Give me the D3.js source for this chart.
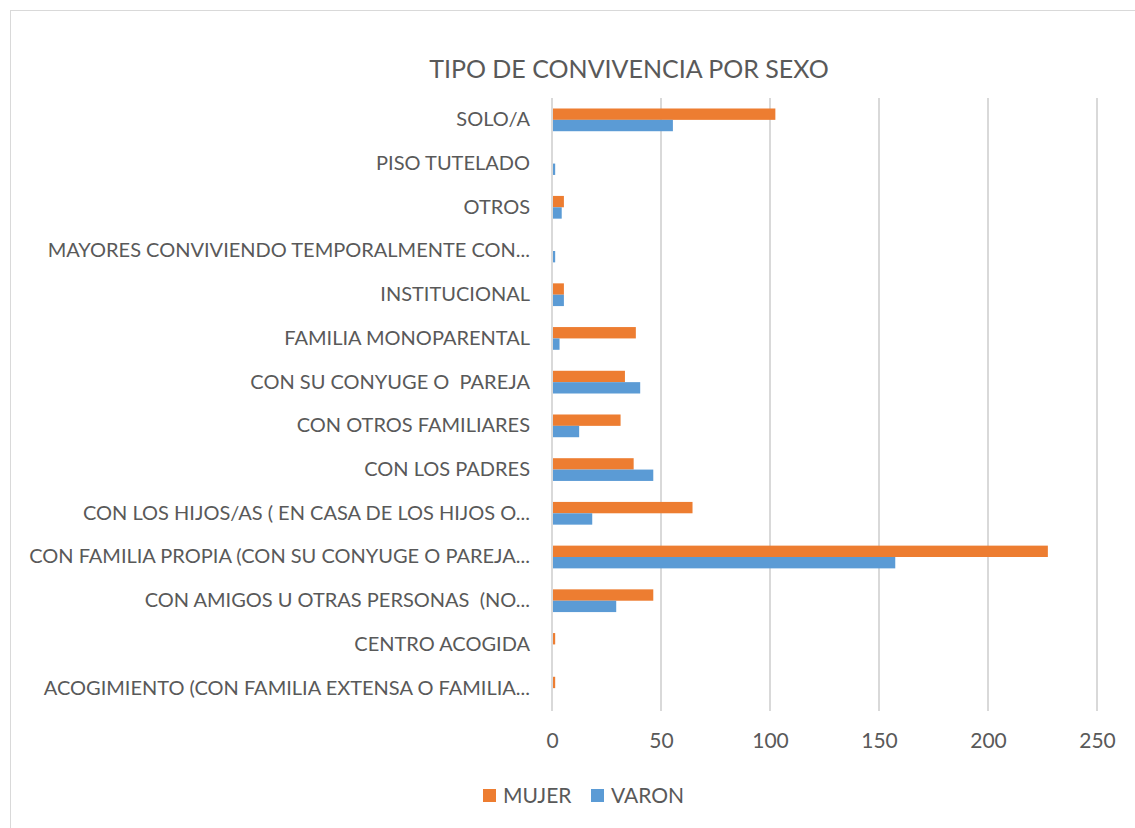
<!DOCTYPE html>
<html lang="es">
<head>
    <meta charset="UTF-8">
    <title>Tipo de convivencia por sexo</title>
    <script src="https://cdn.jsdelivr.net/npm/d3@7"></script>
    <style>
        body { margin: 0; background: #fff; }
        text { font-family: Lato, "Open Sans", sans-serif; fill: #595959; white-space: pre; }
    </style>
</head>
<body>
<svg width="1135" height="828"></svg>
<script>
// categorias de arriba a abajo
var categorias = [
    'SOLO/A',
    'PISO TUTELADO',
    'OTROS',
    'MAYORES CONVIVIENDO TEMPORALMENTE CON...',
    'INSTITUCIONAL',
    'FAMILIA MONOPARENTAL',
    'CON SU CONYUGE O  PAREJA',
    'CON OTROS FAMILIARES',
    'CON LOS PADRES',
    'CON LOS HIJOS/AS ( EN CASA DE LOS HIJOS O...',
    'CON FAMILIA PROPIA (CON SU CONYUGE O PAREJA...',
    'CON AMIGOS U OTRAS PERSONAS  (NO...',
    'CENTRO ACOGIDA',
    'ACOGIMIENTO (CON FAMILIA EXTENSA O FAMILIA...'
];
var mujer = [102, 0, 5, 0, 5, 38, 33, 31, 37, 64, 227, 46, 1, 1];
var varon = [55, 1, 4, 1, 5, 3, 40, 12, 46, 18, 157, 29, 0, 0];
var series = ['MUJER', 'VARON'];
var colores = ['#ED7D31', '#5B9BD5'];
var ticks = [0, 50, 100, 150, 200, 250];

var svg = d3.select('svg');

// marco
svg.append('rect')
    .attr('x', 10.5).attr('y', 10.5)
    .attr('width', 1135).attr('height', 830)
    .attr('fill', 'none')
    .attr('stroke', '#D9D9D9');

var x = d3.scaleLinear().domain([0, 250]).range([552, 1097]);
var y = d3.scaleBand().domain(categorias).range([98, 710])
    .paddingInner(0.48).paddingOuter(0.24);
var ySub = d3.scaleBand().domain(series).range([0, y.bandwidth()]);

// titulo
svg.append('text')
    .attr('x', 629).attr('y', 78)
    .attr('text-anchor', 'middle')
    .style('font-size', '25px')
    .text('TIPO DE CONVIVENCIA POR SEXO');

// rejilla
svg.append('g').selectAll('line')
    .data(ticks)
    .enter().append('line')
    .attr('x1', function(d) { return x(d); })
    .attr('x2', function(d) { return x(d); })
    .attr('y1', 98).attr('y2', 711)
    .attr('stroke', '#D9D9D9')
    .attr('stroke-width', 2);

// eje x
var ejeX = svg.append('g')
    .attr('transform', 'translate(0,711)')
    .call(d3.axisBottom(x).tickValues(ticks).tickSize(0).tickPadding(22));
ejeX.select('.domain').remove();
ejeX.selectAll('text').style('font-size', '21px').attr('fill', '#595959');

// eje y
var ejeY = svg.append('g')
    .attr('transform', 'translate(552,0)')
    .call(d3.axisLeft(y).tickSize(0).tickPadding(22));
ejeY.select('.domain').remove();
ejeY.selectAll('text').style('font-size', '20px').attr('fill', '#595959');

// barras
var filas = categorias.map(function(c, i) {
    return { cat: c, valores: [mujer[i], varon[i]] };
});
var grupos = svg.append('g').selectAll('g')
    .data(filas)
    .enter().append('g')
    .attr('transform', function(d) { return 'translate(0,' + y(d.cat) + ')'; });
grupos.selectAll('rect')
    .data(function(d) {
        return d.valores.map(function(v, j) { return { serie: series[j], v: v, j: j }; });
    })
    .enter().append('rect')
    .attr('x', x(0) + 1)
    .attr('y', function(d) { return ySub(d.serie); })
    .attr('height', ySub.bandwidth())
    .attr('width', function(d) { return Math.max(0, x(d.v) - x(0)); })
    .attr('fill', function(d) { return colores[d.j]; });

// leyenda
var leyenda = svg.append('g').selectAll('g')
    .data(series)
    .enter().append('g')
    .attr('transform', function(d, i) { return 'translate(' + (483 + i * 108) + ',789)'; });
leyenda.append('rect')
    .attr('width', 13).attr('height', 13)
    .attr('fill', function(d, i) { return colores[i]; });
leyenda.append('text')
    .attr('x', 20).attr('y', 14)
    .style('font-size', '21px')
    .text(function(d) { return d; });
</script>
</body>
</html>
